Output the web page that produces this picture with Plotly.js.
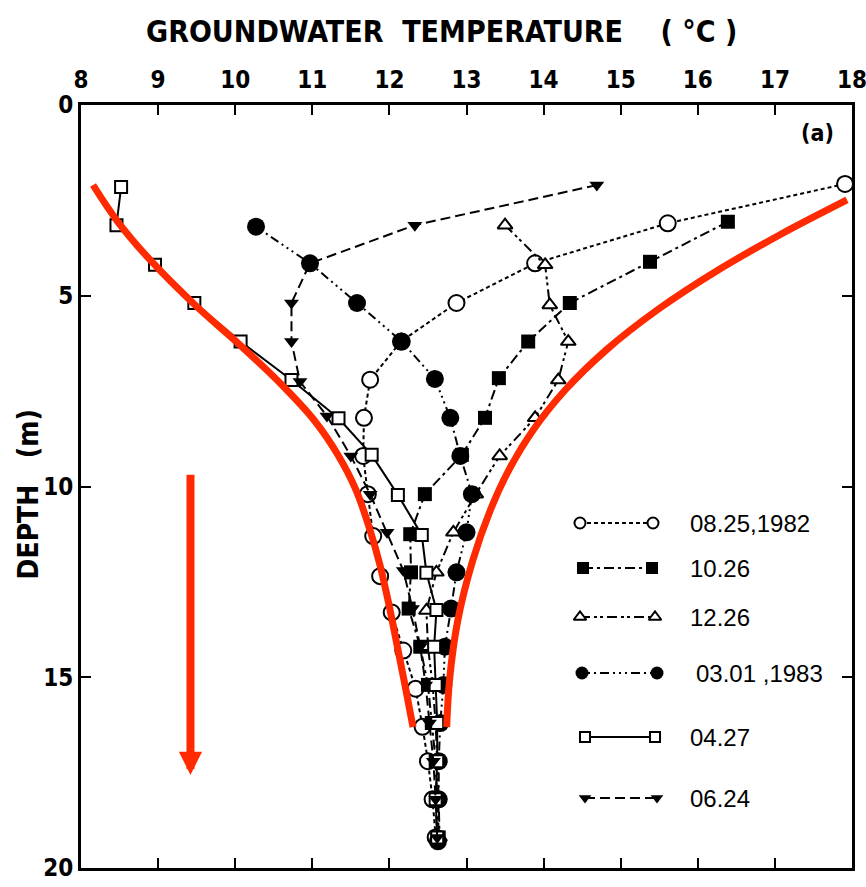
<!DOCTYPE html>
<html>
<head>
<meta charset="utf-8">
<script src="https://cdn.plot.ly/plotly-3.0.1.min.js"></script>
<style>
  html, body { margin: 0; padding: 0; background: #ffffff; }
  #chart { width: 866px; height: 887px; }
</style>
</head>
<body>
<div id="chart"></div>
<script>
// Groundwater temperature profiles (°C) against depth (m), six survey dates.
const seriesNames = ['08.25,1982', '10.26', '12.26', '03.01 ,1983', '04.27', '06.24'];

const depth0825 = [2.07, 3.1, 4.15, 5.19, 6.2, 7.2, 8.2, 9.2, 10.2, 11.3, 12.35, 13.3, 14.3, 15.3, 16.3, 17.2, 18.2, 19.2];
const temp0825  = [17.91, 15.61, 13.89, 12.87, 12.15, 11.75, 11.67, 11.66, 11.72, 11.79, 11.88, 12.03, 12.18, 12.34, 12.43, 12.5, 12.56, 12.6];

const depth1026 = [3.06, 4.11, 5.19, 6.2, 7.16, 8.2, 9.17, 10.2, 11.25, 12.25, 13.2, 14.2, 15.2, 16.2, 17.2, 18.2, 19.2];
const temp1026  = [16.39, 15.38, 14.34, 13.8, 13.42, 13.24, 12.94, 12.46, 12.27, 12.28, 12.25, 12.4, 12.5, 12.55, 12.6, 12.62, 12.64];

const depth1226 = [3.15, 4.19, 5.24, 6.2, 7.21, 8.2, 9.2, 10.2, 11.2, 12.25, 13.25, 14.2, 15.2, 16.2, 17.2, 18.2, 19.2];
const temp1226  = [13.5, 14.02, 14.08, 14.32, 14.19, 13.89, 13.43, 13.12, 12.83, 12.61, 12.48, 12.5, 12.56, 12.6, 12.62, 12.64, 12.65];

const depth0301 = [3.19, 4.15, 5.19, 6.2, 7.18, 8.2, 9.2, 10.2, 11.2, 12.25, 13.2, 14.2, 15.2, 16.2, 17.2, 18.2, 19.3];
const temp0301  = [10.27, 10.97, 11.58, 12.16, 12.59, 12.79, 12.92, 13.07, 13.0, 12.87, 12.8, 12.72, 12.7, 12.66, 12.64, 12.64, 12.63];

const depth0427 = [2.15, 3.15, 4.19, 5.19, 6.2, 7.21, 8.21, 9.17, 10.22, 11.27, 12.26, 13.24, 14.2, 15.2, 16.2, 17.2, 18.2, 19.2];
const temp0427  = [8.52, 8.46, 8.96, 9.47, 10.07, 10.73, 11.34, 11.77, 12.11, 12.42, 12.48, 12.61, 12.58, 12.6, 12.62, 12.62, 12.6, 12.62];

const depth0624 = [2.1, 3.15, 4.15, 5.19, 6.2, 7.25, 8.15, 9.2, 10.2, 11.2, 12.2, 13.2, 14.2, 15.2, 16.2, 17.2, 18.2, 19.2];
const temp0624  = [14.69, 12.33, 10.97, 10.73, 10.73, 10.84, 11.19, 11.5, 11.75, 11.97, 12.18, 12.3, 12.4, 12.47, 12.52, 12.57, 12.6, 12.62];

// Envelope of the seasonal temperature range (left = coldest, right = warmest)
const envLeftTemp   = [8.156, 8.48, 8.921, 9.479, 10.062, 10.581, 11.022, 11.333, 11.567, 11.748, 11.878, 11.995, 12.099, 12.202, 12.306];
const envLeftDepth  = [2.097, 3.067, 4.115, 5.242, 6.291, 7.287, 8.257, 9.174, 10.092, 11.14, 12.058, 13.106, 14.155, 15.203, 16.304];
const envRightTemp  = [17.935, 17.06, 16.265, 15.473, 14.812, 14.28, 13.865, 13.549, 13.31, 13.083, 12.888, 12.78, 12.743];
const envRightDepth = [2.49, 3.408, 4.325, 5.374, 6.422, 7.471, 8.519, 9.568, 10.616, 11.927, 13.5, 15.072, 16.304];

const xTickVals = [8, 9, 10, 11, 12, 13, 14, 15, 16, 17, 18];
const yTickVals = [0, 5, 10, 15, 20];

const RED = '#ff2a00';
const BOLD_FONT = '"Liberation Sans Narrow", "DejaVu Sans Condensed", "Arial Narrow", "Liberation Sans", Arial, sans-serif';
const TEXT_FONT = '"Liberation Sans", Arial, Helvetica, sans-serif';

// Marker / line styles per series
const styles = [
  { symbol: 'circle',        open: true,  size: 16, dash: '4px,3px' },
  { symbol: 'square',        open: false, size: 14, dash: '10px,4px,3px,4px' },
  { symbol: 'triangle-up',   open: true,  size: 13, dash: '10px,4px,3px,3px,3px,4px' },
  { symbol: 'circle',        open: false, size: 18, dash: '2px,4px,2px,4px,2px,4px,9px,4px' },
  { symbol: 'square',        open: true,  size: 12, dash: 'solid' },
  { symbol: 'triangle-down', open: false, size: 13, dash: '10px,5px' }
];

const temps  = [temp0825, temp1026, temp1226, temp0301, temp0427, temp0624];
const depths = [depth0825, depth1026, depth1226, depth0301, depth0427, depth0624];

function markerFor(st, size) {
  return {
    symbol: st.symbol,
    size: size,
    color: st.open ? '#ffffff' : '#000000',
    line: { color: '#000000', width: st.open ? 2 : 0 }
  };
}

const traces = [];
temps.forEach((t, i) => {
  const st = styles[i];
  traces.push({
    type: 'scatter', mode: 'lines+markers',
    x: t, y: depths[i], name: seriesNames[i],
    line: { color: '#000000', width: 2, dash: st.dash },
    marker: markerFor(st, st.size),
    cliponaxis: false, showlegend: false, hoverinfo: 'skip'
  });
});

// Envelope curves drawn above the profiles
[[envLeftTemp, envLeftDepth], [envRightTemp, envRightDepth]].forEach(([t, d]) => {
  traces.push({
    type: 'scatter', mode: 'lines', x: t, y: d,
    line: { color: RED, width: 7, shape: 'spline', smoothing: 1.0 },
    showlegend: false, hoverinfo: 'skip'
  });
});

// Hand-built key: symbol — line — symbol, on a pixel-space overlay axis
const keyRowY   = [523, 568, 617, 673, 737, 798];
const keyLeftX  = [580, 583, 580, 582, 585, 585];
const keyRightX = [653, 652, 655, 657, 655, 657];
const keyTextX  = [688, 688, 688, 694, 688, 688];
const keySize   = [11, 12, 11, 13, 10, 11];

const annotations = [];
styles.forEach((st, i) => {
  traces.push({
    type: 'scatter', mode: 'lines+markers', xaxis: 'x2', yaxis: 'y2',
    x: [keyLeftX[i], keyRightX[i]], y: [keyRowY[i], keyRowY[i]],
    line: { color: '#000000', width: 2, dash: st.dash },
    marker: markerFor(st, keySize[i]),
    showlegend: false, hoverinfo: 'skip', cliponaxis: false
  });
  annotations.push({
    xref: 'x2', yref: 'y2', x: keyTextX[i], y: keyRowY[i],
    xanchor: 'left', yanchor: 'middle', showarrow: false,
    text: seriesNames[i],
    font: { family: TEXT_FONT, size: 24, color: '#000000' }
  });
});

// Temperature axis title (top)
annotations.push({
  xref: 'paper', yref: 'paper', x: 0.467, y: 1.0957,
  xanchor: 'center', yanchor: 'middle', showarrow: false,
  text: 'GROUNDWATER\u00A0\u00A0TEMPERATURE\u00A0\u00A0\u00A0\u00A0(\u00A0°C\u00A0)',
  font: { family: BOLD_FONT, size: 30, weight: 'bold', color: '#000000' }
});

// Depth axis title
annotations.push({
  xref: 'paper', yref: 'paper', x: -0.068, y: 0.489,
  xanchor: 'center', yanchor: 'middle', showarrow: false, textangle: -90,
  text: 'DEPTH\u00A0\u00A0\u00A0(m)',
  font: { family: BOLD_FONT, size: 28, weight: 'bold', color: '#000000' }
});

// Panel tag
annotations.push({
  xref: 'paper', yref: 'paper', x: 0.955, y: 0.963,
  xanchor: 'center', yanchor: 'middle', showarrow: false,
  text: '(a)', font: { family: BOLD_FONT, size: 23, weight: 'bold', color: '#000000' }
});

// Downward arrow (direction of increasing depth)
annotations.push({
  xref: 'x', yref: 'y', axref: 'x', ayref: 'y',
  x: 9.42, y: 17.56, ax: 9.42, ay: 9.65,
  text: '', showarrow: true, arrowhead: 2, arrowsize: 0.58,
  arrowwidth: 8, arrowcolor: RED, standoff: 0, startstandoff: 0
});

const axisCommon = {
  showgrid: false, zeroline: false,
  showline: true, linewidth: 3, linecolor: '#000000',
  mirror: 'ticks', ticks: 'inside', ticklen: 10, tickwidth: 2, tickcolor: '#000000',
  ticklabeloverflow: 'allow',
  tickfont: { family: BOLD_FONT, size: 24, weight: 'bold', color: '#000000' }
};

const layout = {
  width: 866, height: 887,
  margin: { l: 81, r: 14, t: 105, b: 19 },
  paper_bgcolor: '#ffffff', plot_bgcolor: '#ffffff',
  showlegend: false,
  xaxis: Object.assign({}, axisCommon, {
    side: 'top', range: [8, 18], tickvals: xTickVals, ticklabelstandoff: 4
  }),
  yaxis: Object.assign({}, axisCommon, {
    range: [20, 0], tickvals: yTickVals
  }),
  xaxis2: { overlaying: 'x', range: [81, 852], visible: false, fixedrange: true },
  yaxis2: { overlaying: 'y', range: [868, 105], visible: false, fixedrange: true },
  annotations: annotations
};

Plotly.newPlot('chart', traces, layout, { staticPlot: true, displayModeBar: false });
</script>
</body>
</html>
